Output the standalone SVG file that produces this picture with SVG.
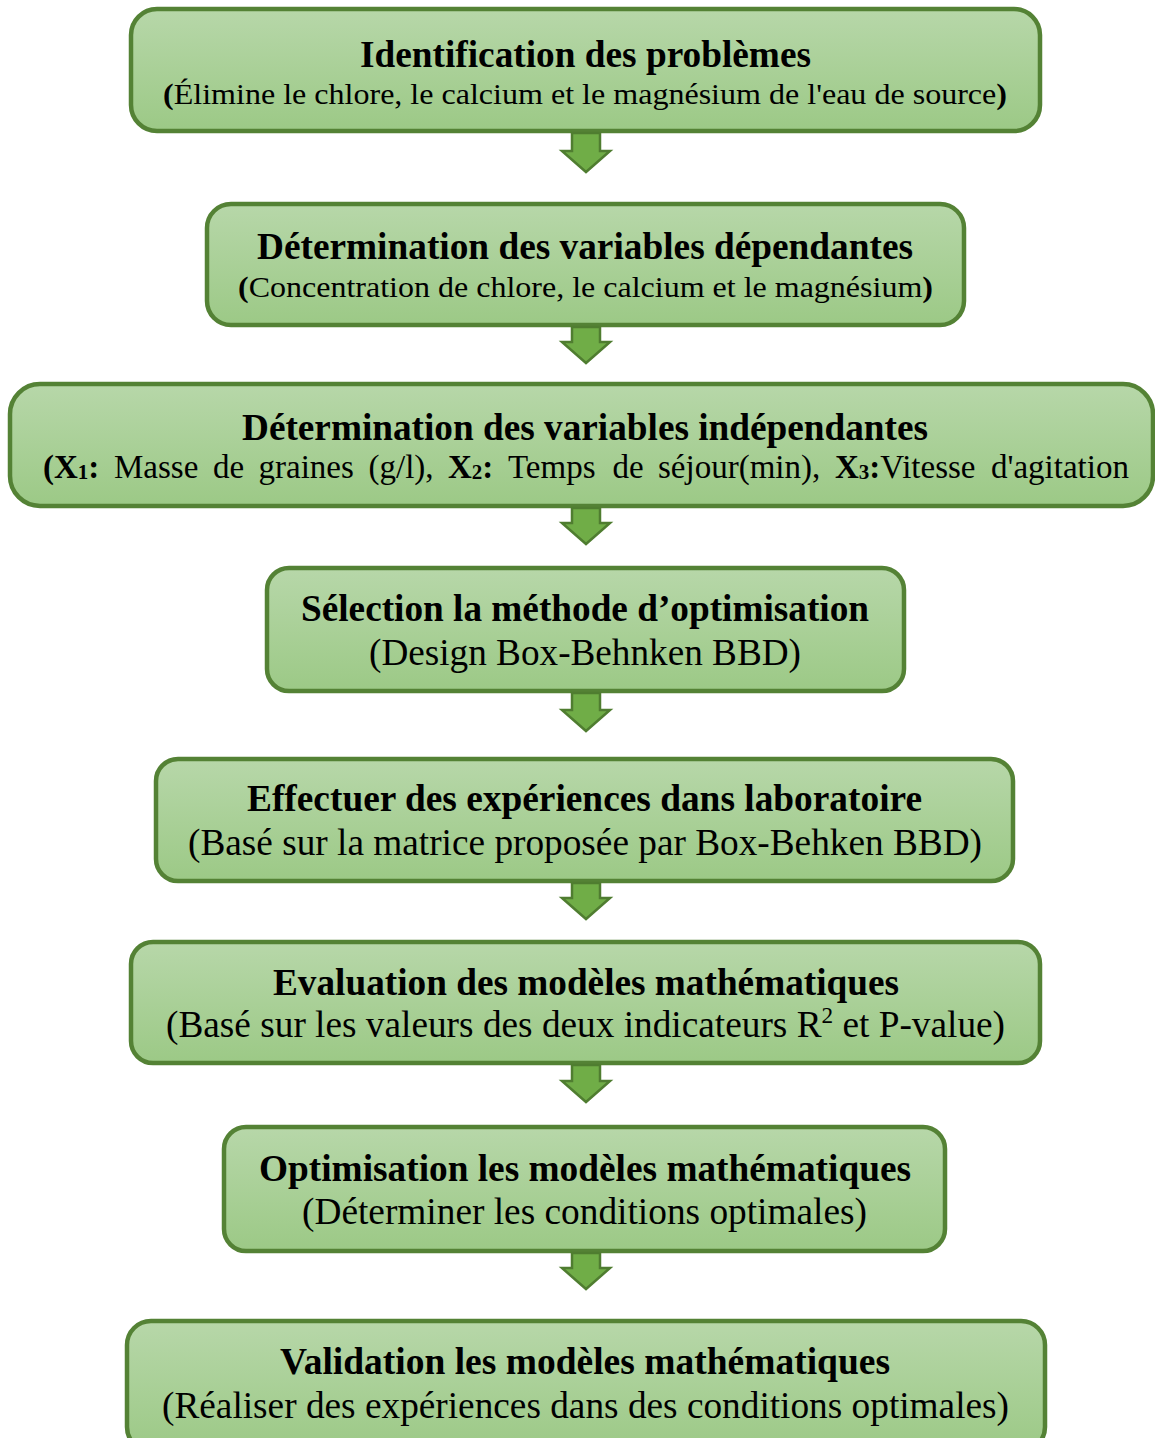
<svg xmlns="http://www.w3.org/2000/svg" width="1155" height="1438" viewBox="0 0 1155 1438">
<defs>
<linearGradient id="g" x1="0" y1="0" x2="0" y2="1">
<stop offset="0" stop-color="#b7d7a9"/>
<stop offset="1" stop-color="#9cc986"/>
</linearGradient>
<style>
.box{fill:url(#g);stroke:#548235;stroke-width:4.5}
.arr{fill:#70ad47;stroke:#4f7d30;stroke-width:2.5;stroke-linejoin:miter}
text{font-family:"Liberation Serif","Times New Roman",serif;fill:#000}
.t{font-size:37px;font-weight:bold;text-anchor:middle}
.s{font-size:37px;text-anchor:middle}
.s2{font-size:30px;text-anchor:middle}
.w{font-size:33px}
.b{font-weight:bold}
</style>
</defs>
<rect width="1155" height="1438" fill="#fff"/>
<g id="n1">
<rect class="box" x="131" y="9" width="909" height="122" rx="26"/>
<text class="t" x="585.5" y="67" textLength="451" lengthAdjust="spacingAndGlyphs">Identification des problèmes</text>
<text class="s2" x="585" y="104" textLength="844" lengthAdjust="spacingAndGlyphs"><tspan class="b">(</tspan>Élimine le chlore, le calcium et le magnésium de l'eau de source<tspan class="b">)</tspan></text>
</g>
<g id="n2">
<rect class="box" x="207" y="204" width="757" height="121" rx="24"/>
<text class="t" x="585" y="259" textLength="656" lengthAdjust="spacingAndGlyphs">Détermination des variables dépendantes</text>
<text class="s2" x="585.5" y="297" textLength="695" lengthAdjust="spacingAndGlyphs"><tspan class="b">(</tspan>Concentration de chlore, le calcium et le magnésium<tspan class="b">)</tspan></text>
</g>
<g id="n3">
<rect class="box" x="10" y="384" width="1143" height="122" rx="30"/>
<text class="t" x="585" y="440" textLength="686" lengthAdjust="spacingAndGlyphs">Détermination des variables indépendantes</text>
<text class="w b" x="43" y="478">(X<tspan font-size="21" dy="1">1</tspan><tspan dy="-1">:</tspan></text>
<text class="w" x="114" y="478">Masse</text>
<text class="w" x="213" y="478">de</text>
<text class="w" x="258.5" y="478">graines</text>
<text class="w" x="368.5" y="478">(g/l),</text>
<text class="w b" x="448" y="478">X<tspan font-size="21" dy="1">2</tspan><tspan dy="-1">:</tspan></text>
<text class="w" x="508" y="478">Temps</text>
<text class="w" x="612.5" y="478">de</text>
<text class="w" x="658" y="478">séjour(min),</text>
<text class="w" x="835" y="478"><tspan class="b">X</tspan><tspan class="b" font-size="21" dy="1">3</tspan><tspan class="b" dy="-1">:</tspan>Vitesse</text>
<text class="w" x="991" y="478">d'agitation</text>
</g>
<g id="n4">
<rect class="box" x="267" y="568" width="637" height="123" rx="22"/>
<text class="t" x="585" y="621" textLength="568" lengthAdjust="spacingAndGlyphs">Sélection la méthode d’optimisation</text>
<text class="s" x="585" y="665" textLength="432" lengthAdjust="spacingAndGlyphs">(Design Box-Behnken BBD)</text>
</g>
<g id="n5">
<rect class="box" x="156" y="759" width="857" height="122" rx="22"/>
<text class="t" x="584.5" y="811" textLength="675" lengthAdjust="spacingAndGlyphs">Effectuer des expériences dans laboratoire</text>
<text class="s" x="585" y="855" textLength="794" lengthAdjust="spacingAndGlyphs">(Basé sur la matrice proposée par Box-Behken BBD)</text>
</g>
<g id="n6">
<rect class="box" x="131" y="942" width="909" height="121" rx="22"/>
<text class="t" x="586" y="995" textLength="626" lengthAdjust="spacingAndGlyphs">Evaluation des modèles mathématiques</text>
<text class="s" x="585.5" y="1037" textLength="839" lengthAdjust="spacingAndGlyphs">(Basé sur les valeurs des deux indicateurs R<tspan font-size="23" dy="-14">2</tspan><tspan dy="14"> et P-value)</tspan></text>
</g>
<g id="n7">
<rect class="box" x="224" y="1127" width="721" height="124" rx="22"/>
<text class="t" x="585" y="1181" textLength="652" lengthAdjust="spacingAndGlyphs">Optimisation les modèles mathématiques</text>
<text class="s" x="584.5" y="1224" textLength="565" lengthAdjust="spacingAndGlyphs">(Déterminer les conditions optimales)</text>
</g>
<g id="n8">
<rect class="box" x="127" y="1321" width="918" height="130" rx="24"/>
<text class="t" x="585" y="1374" textLength="610" lengthAdjust="spacingAndGlyphs">Validation les modèles mathématiques</text>
<text class="s" x="585.5" y="1418" textLength="847" lengthAdjust="spacingAndGlyphs">(Réaliser des expériences dans des conditions optimales)</text>
</g>
<g id="connectors">
<path class="arr" d="M572,133 H600 V151 H610 L586,172 L562,151 H572 Z"/>
<path class="arr" d="M572,327 H600 V342 H610 L586,363 L562,342 H572 Z"/>
<path class="arr" d="M572,508 H600 V523 H610 L586,544 L562,523 H572 Z"/>
<path class="arr" d="M572,693 H600 V710 H610 L586,731 L562,710 H572 Z"/>
<path class="arr" d="M572,883 H600 V898 H610 L586,919 L562,898 H572 Z"/>
<path class="arr" d="M572,1065 H600 V1081 H610 L586,1102 L562,1081 H572 Z"/>
<path class="arr" d="M572,1253 H600 V1268 H610 L586,1289 L562,1268 H572 Z"/>
</g>
</svg>
